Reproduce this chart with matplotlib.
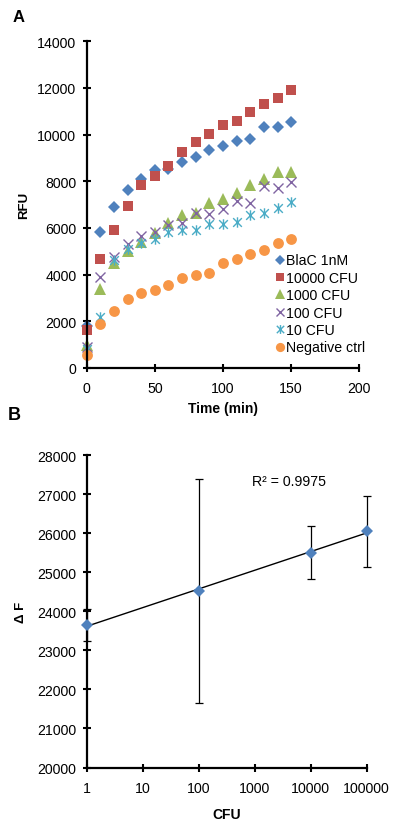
import numpy as np
import matplotlib
matplotlib.use("Agg")
import matplotlib.pyplot as plt
from matplotlib.path import Path

plt.rcParams['font.family'] = ['Liberation Sans', 'DejaVu Sans']

# ---------------- Data: panel A ----------------
time_min = [0, 10, 20, 30, 40, 50, 60, 70, 80, 90, 100, 110, 120, 130, 140, 150]
blac_1nM = [1800, 5845, 6918, 7630, 8090, 8490, 8549, 8833, 9034, 9335, 9494, 9734, 9807, 10309, 10309, 10549]
cfu_10000 = [1609, 4657, 5914, 6944, 7833, 8232, 8635, 9236, 9665, 10021, 10408, 10579, 10966, 11309, 11567, 11923]
cfu_1000 = [980, 3399, 4515, 5013, 5416, 5803, 6232, 6550, 6625, 7060, 7232, 7489, 7863, 8090, 8378, 8403]
cfu_100 = [900, 3897, 4773, 5300, 5657, 5845, 6116, 6202, 6631, 6588, 6803, 7159, 7090, 7803, 7734, 7974]
cfu_10 = [820, 2197, 4627, 5086, 5343, 5515, 5845, 5914, 5914, 6159, 6159, 6274, 6558, 6661, 6845, 7116]
neg_ctrl = [536, 1867, 2438, 2940, 3197, 3339, 3554, 3871, 3983, 4086, 4515, 4687, 4871, 5056, 5373, 5545]
series_labels = ['BlaC 1nM', '10000 CFU', '1000 CFU', '100 CFU', '10 CFU', 'Negative ctrl']

# ---------------- Data: panel B ----------------
cfu = [1, 100, 10000, 100000]
delta_f = [23649, 24521, 25504, 26044]
delta_f_err = [415, 2870, 675, 910]
cfu_tick_labels = ['1', '10', '100', '1000', '10000', '100000']
r2_text = 'R² = 0.9975'

# ---------------- Styles ----------------
blue = '#4F81BD'
red = '#C0504D'
green = '#9BBB59'
purple = '#8064A2'
aqua = '#4BACC6'
orange = '#F79646'

star = Path([(-1, -1), (1, 1), (-1, 1), (1, -1), (0, -1.2), (0, 1.2)],
            [Path.MOVETO, Path.LINETO, Path.MOVETO, Path.LINETO, Path.MOVETO, Path.LINETO])

styles = [
    dict(marker='D', ms=6.0, color=blue, mew=0),
    dict(marker='s', ms=7.6, color=red, mew=0),
    dict(marker='^', ms=8.0, color=green, mew=0),
    dict(marker='x', ms=7.0, color=purple, mew=1.0),
    dict(marker=star, ms=7.5, color=aqua, mew=1.0),
    dict(marker='o', ms=7.8, color=orange, mew=0),
]

W, H = 400, 828
fig = plt.figure(figsize=(W / 100, H / 100), dpi=100)


def style_axes(ax):
    for s in ['top', 'right']:
        ax.spines[s].set_visible(False)
    for s in ['left', 'bottom']:
        ax.spines[s].set_linewidth(1.6)
    ax.tick_params(axis='both', which='major', direction='inout', length=6, width=1.5,
                   labelsize=10.2, pad=4.5)
    ax.tick_params(axis='x', which='major', pad=6.5)
    ax.tick_params(axis='both', which='minor', length=0)


# ---------------- Panel A ----------------
axA = fig.add_axes([86.7 / W, 1 - 369 / H, (359.3 - 86.7) / W, (369 - 42.3) / H])
all_series = [blac_1nM, cfu_10000, cfu_1000, cfu_100, cfu_10, neg_ctrl]
for vals, lab, st in zip(all_series, series_labels, styles):
    axA.plot(time_min, vals, linestyle='none', marker=st['marker'], ms=st['ms'],
             color=st['color'], mec=st['color'], mew=st['mew'], label=lab, clip_on=False)
axA.set_xlim(0, 200)
axA.set_ylim(0, 14000)
axA.set_xticks([0, 50, 100, 150, 200])
axA.set_yticks(np.arange(0, 14001, 2000))
style_axes(axA)
axA.set_xlabel('Time (min)', fontsize=10, fontweight='bold', labelpad=4)
axA.set_ylabel('RFU', fontsize=9.5, fontweight='bold', labelpad=5)
axA.legend(loc='upper left', bbox_to_anchor=(276 / W, 1 - 254.5 / H), bbox_transform=fig.transFigure,
           frameon=False, fontsize=10.2, handlelength=0.6, handletextpad=0.1,
           labelspacing=0.24, borderpad=0, borderaxespad=0, numpoints=1, markerscale=0.85)

# ---------------- Panel B ----------------
axB = fig.add_axes([86.7 / W, 1 - 768.5 / H, (366.7 - 86.7) / W, (768.5 - 456) / H])
axB.set_xscale('log')
logx = np.log10(cfu)
coef = np.polyfit(logx, delta_f, 1)
xs = np.logspace(0, 5, 50)
axB.plot(xs, np.polyval(coef, np.log10(xs)), color='black', lw=1.0, zorder=2, clip_on=False)
axB.errorbar(cfu, delta_f, yerr=delta_f_err, fmt='none', ecolor='black', elinewidth=0.9,
             capsize=3.2, capthick=0.9, zorder=3, clip_on=False)
axB.plot(cfu, delta_f, linestyle='none', marker='D', ms=6.5, color=blue, mew=0, zorder=4,
         clip_on=False)
axB.set_xlim(1, 100000)
axB.set_ylim(20000, 28000)
axB.set_xticks([1, 10, 100, 1000, 10000, 100000])
axB.set_xticklabels(cfu_tick_labels)
axB.set_yticks(np.arange(20000, 28001, 1000))
style_axes(axB)
axB.xaxis.set_minor_locator(matplotlib.ticker.NullLocator())
axB.set_xlabel('CFU', fontsize=10, fontweight='bold', labelpad=9)
axB.set_ylabel('Δ F', fontsize=9.5, fontweight='bold', labelpad=7)
axB.text(10 ** 3.62, 27330, r2_text, fontsize=10.2, ha='center', va='center')

# Panel letters
fig.text(18.7 / W, 1 - 17.5 / H, 'A', fontsize=12, fontweight='bold', ha='center', va='center')
fig.text(14 / W, 1 - 415.5 / H, 'B', fontsize=13, fontweight='bold', ha='center', va='center')

fig.savefig('out.png', dpi=100)
